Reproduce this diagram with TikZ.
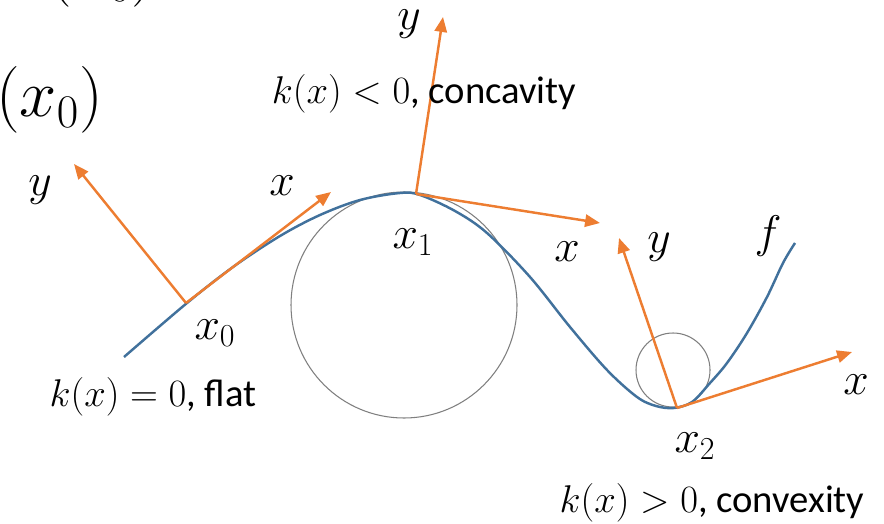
\RequirePackage{fix-cm}
\documentclass[tikz,border=0pt]{standalone}
\usepackage[no-math]{fontspec}
\setmainfont{Carlito}
\usetikzlibrary{arrows.meta}
\definecolor{fcurve}{HTML}{41719C}
\definecolor{frame}{HTML}{ED7D31}
\definecolor{osc}{HTML}{7F7F7F}

\begin{document}
\begin{tikzpicture}[x=0.02cm,y=-0.02cm,
  axis/.style={frame,line width=1.4pt,-{Triangle[length=8.5pt,width=7pt]}},
  lab/.style={font=\fontsize{26}{30}\selectfont},
  note/.style={font=\fontsize{22}{26}\selectfont},
  big/.style={font=\fontsize{38}{44}\selectfont,anchor=base west}]
  \useasboundingbox (0,0) rectangle (884,523);
  \clip (0,0) rectangle (884,523);

  % cut-off text at the top left
  \node[big] (topa) at (42,-9) {$(x_0)$};
  \node[big] (topb) at (-10,117) {$(x_0)$};

  % osculating circles
  \draw[osc,line width=0.6pt] (404,305) circle[radius=113];
  \draw[osc,line width=0.6pt] (673,370) circle[radius=37];

  % the function f
  \draw[fcurve,line width=1.4pt] plot[smooth,tension=0.55] coordinates {
    (124,357) (187,303) (233,267) (280,236) (320,215) (360,200) (400,193)
    (420,195) (455,211) (487,233) (530,277) (570,327) (607,370) (637,397)
    (656,406) (674,408) (692,402) (710,383) (727,363) (747,333) (767,297)
    (783,263) (795,243)};

  % local frames
  \coordinate (x0) at (186,303);
  \coordinate (x0-x) at (331,192);
  \coordinate (x0-y) at (74,164);
  \coordinate (x1) at (416,194);
  \coordinate (x1-x) at (600,223);
  \coordinate (x1-y) at (443,17);
  \coordinate (x2) at (677,408);
  \coordinate (x2-x) at (852,352);
  \coordinate (x2-y) at (619,238);
  \foreach \p in {x0,x1,x2} {
    \draw[axis] (\p) -- (\p-x);
    \draw[axis] (\p) -- (\p-y);
  }

  % labels
  \node[lab] (ya) at (40,190) {$y$};
  \node[lab] (xa) at (282,186) {$x$};
  \node[lab] (pa) at (215,333) {$x_0$};
  \node[note] (flat) at (153,397) {$k(x)=0$, flat};
  \node[lab] (yb) at (409,24) {$y$};
  \node[note] (concave) at (424,94) {$k(x)<0$, concavity};
  \node[lab] (pb) at (413,242) {$x_1$};
  \node[lab] (xb) at (567,252) {$x$};
  \node[lab] (yc) at (659,247) {$y$};
  \node[lab] (fname) at (768,236) {$f$};
  \node[lab] (xc) at (856,385) {$x$};
  \node[lab] (pc) at (695,446) {$x_2$};
  \node[note] (convex) at (712,503) {$k(x)>0$, convexity};
\end{tikzpicture}
\end{document}
